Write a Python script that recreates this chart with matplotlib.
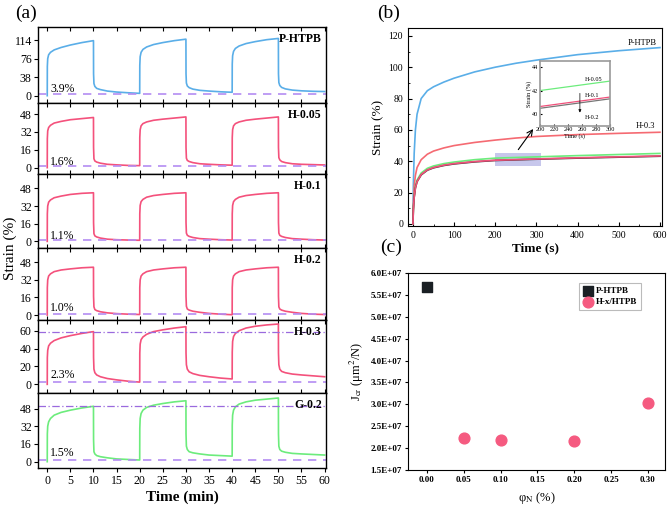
import numpy as np
import matplotlib
matplotlib.use('Agg')
import matplotlib.pyplot as plt
from matplotlib.ticker import MultipleLocator, FuncFormatter
from matplotlib.patches import Rectangle

plt.rcParams['font.family'] = ['Liberation Serif', 'DejaVu Serif']
plt.rcParams['mathtext.fontset'] = 'stix'

# ---- (a) creep / recovery cycles (time in min, strain in %) ----
time_min = [0, 0.02, 0.1, 0.3, 0.7, 1.5, 3, 5, 7.5, 10, 10.02, 10.1, 10.3, 10.7, 11.5, 13, 15, 17.5,
            20, 20.02, 20.1, 20.3, 20.7, 21.5, 23, 25, 27.5, 30, 30.02, 30.1, 30.3, 30.7, 31.5, 33, 35, 37.5,
            40, 40.02, 40.1, 40.3, 40.7, 41.5, 43, 45, 47.5, 50, 50.02, 50.1, 50.3, 50.7, 51.5, 53, 55, 57.5,
            60]

strain_phtpb = [0, 60, 76, 84, 89, 94, 99, 104, 109, 113, 45, 25, 19, 15, 12.5, 9.5, 7.5, 6,
                4.8, 62, 80, 89, 95, 100, 105, 109, 113, 116, 45, 26, 20, 16.5, 13.5, 11, 9.5, 8,
                7, 65, 82, 91, 97, 102, 107, 111, 115, 117.5, 45, 27, 21, 17, 14, 11.5, 10, 9,
                8.5]
strain_h005 = [0, 26, 33, 36, 38, 40, 41.5, 43, 44, 45, 18, 8, 6, 5, 4, 3, 2.5, 2,
               1.8, 27, 34, 37.5, 39.5, 41, 42.5, 43.5, 44.5, 45.5, 18, 8.5, 6.5, 5.5, 4.5, 3.5, 3, 2.5,
               2.2, 27, 34, 37.5, 39.5, 41, 42.5, 43.5, 44.5, 45.5, 18, 9, 7, 5.5, 4.5, 3.5, 3, 2.7,
               2.4]
strain_h01 = [0, 25, 32, 35.5, 37.5, 39.5, 41, 42.5, 43.5, 44, 17, 7, 5, 4, 3, 2, 1.5, 1.2,
              1.0, 25, 32.5, 36, 38, 40, 41.5, 42.5, 43.5, 44, 17, 7.5, 5.5, 4.5, 3.5, 2.5, 2, 1.5,
              1.2, 25, 32.5, 36, 38, 40, 41.5, 42.5, 43.5, 44, 17, 7.5, 5.5, 4.5, 3.5, 2.5, 2, 1.5,
              1.2]
strain_h02 = [0, 25, 32, 35.5, 37.5, 39.5, 41, 42, 43, 43.5, 17, 7.5, 5, 4, 3, 2, 1.3, 0.8,
              0.5, 25, 32, 35.5, 37.5, 39.5, 41, 42, 43, 43.5, 17, 8, 5.5, 4.5, 3.5, 2.5, 1.5, 0.8,
              0.3, 25, 32, 35.5, 37.5, 39.5, 41, 42, 43, 43.5, 17, 7.5, 5.5, 4.5, 3.5, 2.5, 1.5, 0.8,
              0.5]
strain_h03 = [0, 30, 38, 43, 46, 49, 52, 54.5, 57, 59, 30, 17, 13, 10.5, 8.5, 6.5, 5, 3.5,
              2.5, 35, 45, 50, 53, 56, 59, 61, 63, 64.5, 35, 22, 17, 14, 12, 10, 8.5, 7,
              6, 36, 48, 53.5, 57, 60, 63, 65, 66.5, 67.5, 35, 22, 17, 14.5, 13, 11.5, 10.5, 9.5,
              8.5]
strain_g02 = [0, 25, 32, 36, 39, 42, 44.5, 46.5, 48.5, 50, 20, 9, 7, 5.5, 4.5, 3.5, 2.5, 2,
              1.5, 30, 39, 43.5, 46.5, 49, 51, 52.5, 54, 55, 25, 14, 11, 9, 8, 7, 6, 5.5,
              5, 33, 42, 46.5, 49.5, 52, 54, 55.5, 56.5, 57.5, 25, 14, 11, 9.5, 8.5, 7.5, 7, 6.5,
              6]

samples_a = ['P-HTPB', 'H-0.05', 'H-0.1', 'H-0.2', 'H-0.3', 'G-0.2']
strains_a = [strain_phtpb, strain_h005, strain_h01, strain_h02, strain_h03, strain_g02]
residual = [3.9, 1.6, 1.1, 1.0, 2.3, 1.5]
first_peak = [None, None, None, None, 59, 50.5]

# ---- (b) creep curves (time in s) ----
time_s = [0, 1, 3, 6, 10, 20, 35, 50, 75, 100, 150, 200, 250, 300, 400, 500, 600]
creep_phtpb = [0, 25, 45, 60, 70, 80, 85, 87.5, 90.5, 93, 97, 100, 102.5, 104.5, 108, 110.5, 112.5]
creep_h03 = [0, 12, 24, 31, 36, 41, 44.5, 46.5, 48.5, 50, 52, 53.5, 54.8, 55.8, 57, 57.8, 58.5]
creep_h005 = [0, 10, 18, 24, 28, 32.5, 35.5, 37, 38.5, 39.5, 41, 42.0, 42.4, 42.8, 43.6, 44.3, 45.0]
creep_h01 = [0, 9, 17, 23, 27, 31.5, 34.5, 36, 37.5, 38.5, 39.8, 40.65, 41.05, 41.45, 42.2, 42.8, 43.4]
creep_h02 = [0, 9, 17, 23, 27, 31.3, 34.3, 35.8, 37.3, 38.3, 39.6, 40.5, 40.9, 41.3, 42.0, 42.6, 43.2]

# ---- (c) creep compliance ----
phi_p = [0.00]
jcr_p = [5.69e7]
phi_h = [0.05, 0.10, 0.20, 0.30]
jcr_h = [2.24e7, 2.19e7, 2.17e7, 3.03e7]

blue = '#5aaee8'
pink = '#f4517c'
green = '#6cec7c'
lilac = '#b48cf2'
violet = '#9a6ade'
colors_a = [blue, pink, pink, pink, pink, green]

W, H = 668, 507
fig = plt.figure(figsize=(W / 100, H / 100), dpi=100)

# ---------------- panel (a) ----------------
edges = [27, 103, 174, 248, 320, 393, 468]
ylims = [(-15, 141), (-5.7, 58), (-6, 61), (-4.5, 61), (-9.7, 72), (-5.7, 62)]
yticks = [[0, 38, 76, 114], [0, 16, 32, 48], [0, 16, 32, 48], [0, 16, 32, 48],
          [0, 20, 40, 60], [0, 16, 32, 48]]
lab_frac = [0.18, 0.17, 0.16, 0.17, 0.25, 0.2]

for i in range(6):
    top, bot = edges[i], edges[i + 1]
    ax = fig.add_axes([38 / W, 1 - bot / H, 288 / W, (bot - top) / H])
    ax.plot(time_min, strains_a[i], color=colors_a[i], lw=1.2)
    ax.axhline(residual[i], color=lilac, lw=1.2, ls=(0, (5, 4)))
    if first_peak[i] is not None:
        ax.axhline(first_peak[i], color=violet, lw=0.9, ls=(0, (6, 2, 1, 2)))
    ax.set_xlim(-2, 60.3)
    ax.set_ylim(*ylims[i])
    ax.set_yticks(yticks[i])
    ax.xaxis.set_major_locator(MultipleLocator(5))
    ax.tick_params(axis='y', direction='out', length=3, labelsize=8.5, pad=1.5)
    if i < 5:
        ax.tick_params(axis='x', direction='in', length=3, labelbottom=False, top=True)
    else:
        ax.tick_params(axis='x', direction='out', length=3, labelsize=8.5, pad=2)
    ax.text(0.985, 0.92, samples_a[i], transform=ax.transAxes, ha='right', va='top',
            fontsize=8.5, fontweight='semibold')
    ax.text(0.043, lab_frac[i], f'{residual[i]}%', transform=ax.transAxes,
            fontsize=8.5, va='center')
    for sp in ax.spines.values():
        sp.set_linewidth(1.0)

fig.text(10 / W, 1 - 248 / H, 'Strain (%)', rotation=90, ha='center', va='center', fontsize=11)
fig.text(182 / W, 1 - 497 / H, 'Time (min)', ha='center', va='center', fontsize=11, fontweight='bold')
fig.text(15 / W, 1 - 13 / H, '(a)', ha='left', va='center', fontsize=14)

# ---------------- panel (b) ----------------
axb = fig.add_axes([408 / W, 1 - 226 / H, 254 / W, 198 / H])
axb.plot(time_s, creep_phtpb, color=blue, lw=1.2, zorder=3)
axb.plot(time_s, creep_h03, color='#f56a72', lw=1.2, zorder=3)
axb.plot(time_s, creep_h005, color=green, lw=1.2, zorder=3)
axb.plot(time_s, creep_h02, color='#333333', lw=1.2, zorder=3)
axb.plot(time_s, creep_h01, color='#f0507a', lw=1.2, zorder=3)
axb.add_patch(Rectangle((200, 37), 110, 8.5, facecolor='#b9b9e8', alpha=0.8, zorder=1, lw=0))
axb.annotate('', xy=(296, 62), xytext=(252, 46),
             arrowprops=dict(arrowstyle='->', color='k', lw=0.8))
axb.text(557, 115.5, 'P-HTPB', ha='center', va='center', fontsize=6)
axb.text(565, 62.5, 'H-0.3', ha='center', va='center', fontsize=6)
axb.set_xlim(-12, 605)
axb.set_ylim(-1.3, 125)
axb.xaxis.set_major_locator(MultipleLocator(100))
axb.xaxis.set_minor_locator(MultipleLocator(50))
axb.yaxis.set_major_locator(MultipleLocator(20))
axb.yaxis.set_minor_locator(MultipleLocator(10))
axb.tick_params(which='both', direction='in', labelsize=7)
axb.tick_params(which='major', length=3)
axb.tick_params(which='minor', length=1.5)
axb.set_xlabel('Time (s)', fontsize=9.5, fontweight='bold', labelpad=2)
axb.set_ylabel('Strain (%)', fontsize=9.5, labelpad=3)
fig.text(377 / W, 1 - 13 / H, '(b)', ha='left', va='center', fontsize=14)

# inset
axi = fig.add_axes([540 / W, 1 - 126 / H, 70 / W, 65 / H])
axi.plot(time_s, creep_h005, color=green, lw=0.9)
axi.plot(time_s, creep_h02, color='#777777', lw=0.9)
axi.plot(time_s, creep_h01, color='#f0507a', lw=0.9)
axi.set_xlim(200, 300)
axi.set_ylim(39.0, 44.5)
axi.set_xticks([200, 220, 240, 260, 280, 300])
axi.set_yticks([40, 42, 44])
axi.tick_params(direction='in', labelsize=4.5, length=1.5, pad=1)
axi.set_xlabel('Time (s)', fontsize=4.5, labelpad=0.5)
axi.set_ylabel('Strain (%)', fontsize=4.5, labelpad=0.5)
for sp in axi.spines.values():
    sp.set_color('#9a9a9a')
    sp.set_linewidth(1.2)
axi.text(264, 42.75, 'H-0.05', fontsize=4.5, va='bottom')
axi.text(264, 41.35, 'H-0.1', fontsize=4.5, va='bottom')
axi.text(264, 39.75, 'H-0.2', fontsize=4.5, va='center')
axi.annotate('', xy=(257, 39.9), xytext=(257, 42.0),
             arrowprops=dict(arrowstyle='-|>', color='k', lw=0.5, mutation_scale=4))

# ---------------- panel (c) ----------------
axc = fig.add_axes([408 / W, 1 - 470 / H, 257 / W, 197 / H])
axc.scatter(phi_p, jcr_p, marker='s', s=45, color='#1a1f24', label='P-HTPB', zorder=3)
axc.scatter(phi_h, jcr_h, marker='o', s=60, color='#f55a80', label='H-x/HTPB', zorder=3)
axc.set_xlim(-0.0256, 0.3233)
axc.set_ylim(1.5e7, 6.0e7)
axc.set_xticks([0, 0.05, 0.10, 0.15, 0.20, 0.25, 0.30])
axc.xaxis.set_major_formatter(FuncFormatter(lambda v, p: f'{v:.2f}'))
axc.set_yticks(np.arange(1.5e7, 6.01e7, 0.5e7))
axc.yaxis.set_major_formatter(FuncFormatter(lambda v, p: f'{v:.1E}'))
axc.tick_params(direction='out', length=2.5, labelsize=6.5, pad=2)
for lab in axc.get_xticklabels() + axc.get_yticklabels():
    lab.set_fontweight('bold')
axc.set_xlabel(r'φ$_{\rm N}$ (%)', fontsize=9, labelpad=4)
axc.set_ylabel(r'J$_{\rm cr}$ (μm$^2$/N)', fontsize=9, labelpad=3)
leg = axc.legend(loc='upper right', bbox_to_anchor=(0.925, 0.97), fontsize=6.5, frameon=True,
                 fancybox=False, edgecolor='#aaaaaa', handletextpad=0.3, borderpad=0.4,
                 labelspacing=0.3, handlelength=1.2)
leg.get_frame().set_linewidth(0.8)
for t in leg.get_texts():
    t.set_fontweight('bold')
fig.text(380 / W, 1 - 247 / H, '(c)', ha='left', va='center', fontsize=14)

fig.savefig('out.png', dpi=100)
